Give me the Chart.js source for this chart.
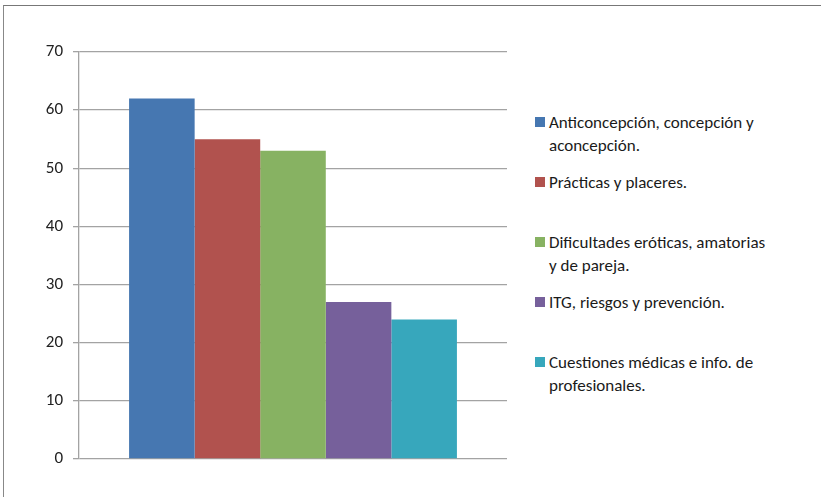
<!DOCTYPE html>
<html>
<head>
<meta charset="utf-8">
<script src="https://cdn.jsdelivr.net/npm/chart.js@4/dist/chart.umd.min.js"></script>
<style>
    html, body { margin: 0; padding: 0; background: #fff; }
    #wrap { position: relative; width: 821px; height: 497px; overflow: hidden; background: #fff; }
    #frame { position: absolute; left: 3px; top: 5px; width: 820px; height: 500px;
             border-top: 1.5px solid #777; border-left: 1.5px solid #888; border-right: 1.5px solid #bbb; box-sizing: border-box; }
    #chartBox { position: absolute; left: 0; top: 0; width: 520px; height: 497px; }
    .legendItem { position: absolute; left: 535px; font-family: Carlito, Lato, "Open Sans", sans-serif;
                  font-size: 17px; line-height: 23px; color: #1a1a1a; }
    .legendItem .swatch { position: absolute; left: 0; top: 6px; width: 10px; height: 10px; }
    .legendItem .text { margin-left: 14px; white-space: nowrap; }
</style>
</head>
<body>
<div id="wrap">
    <div id="frame"></div>
    <div id="chartBox"><canvas id="barChart"></canvas></div>
    <div id="legend"></div>
</div>
<script>
const categories = [""];
const seriesLabels = [
    ["Anticoncepción, concepción y", "aconcepción."],
    ["Prácticas y placeres."],
    ["Dificultades eróticas, amatorias", "y de pareja."],
    ["ITG, riesgos y prevención."],
    ["Cuestiones médicas e info. de", "profesionales."],
];
const seriesValues = [62, 55, 53, 27, 24];
const seriesColors = ["#4677b1", "#b1524e", "#87b262", "#76609b", "#37a7bc"];
const yTicks = [0, 10, 20, 30, 40, 50, 60, 70];

function buildLegend() {
    const legend = document.getElementById("legend");
    seriesLabels.forEach((lines, i) => {
        const item = document.createElement("div");
        item.className = "legendItem";
        item.style.top = (111 + i * 60) + "px";
        const swatch = document.createElement("div");
        swatch.className = "swatch";
        swatch.style.background = seriesColors[i];
        const text = document.createElement("div");
        text.className = "text";
        text.innerHTML = lines.join("<br>");
        item.appendChild(swatch);
        item.appendChild(text);
        legend.appendChild(item);
    });
}

function initializeChart() {
    const ctx = document.getElementById("barChart");
    new Chart(ctx, {
        type: "bar",
        data: {
            labels: categories,
            datasets: seriesLabels.map((lines, i) => ({
                label: lines.join(" "),
                data: [seriesValues[i]],
                backgroundColor: seriesColors[i],
                borderWidth: 0,
                barPercentage: 1,
                categoryPercentage: 0.766,
            })),
        },
        options: {
            responsive: true,
            maintainAspectRatio: false,
            animation: false,
            layout: { padding: { left: 0, right: 13, top: 52, bottom: 38 } },
            plugins: {
                legend: { display: false },
                tooltip: { enabled: false },
            },
            scales: {
                x: { display: false },
                y: {
                    min: 0,
                    max: 70,
                    afterBuildTicks: (scale) => {
                        scale.ticks = yTicks.map((v) => ({ value: v }));
                    },
                    afterFit: (scale) => {
                        scale.width = 79;
                    },
                    ticks: {
                        padding: 10,
                        color: "#222",
                        font: { family: "Carlito, Lato, 'Open Sans', sans-serif", size: 17 },
                    },
                    grid: { color: "#a3a3a3", lineWidth: 1.3, tickLength: 6 },
                    border: { color: "#a3a3a3", width: 1.3 },
                },
            },
        },
    });
}

buildLegend();
initializeChart();
</script>
</body>
</html>
